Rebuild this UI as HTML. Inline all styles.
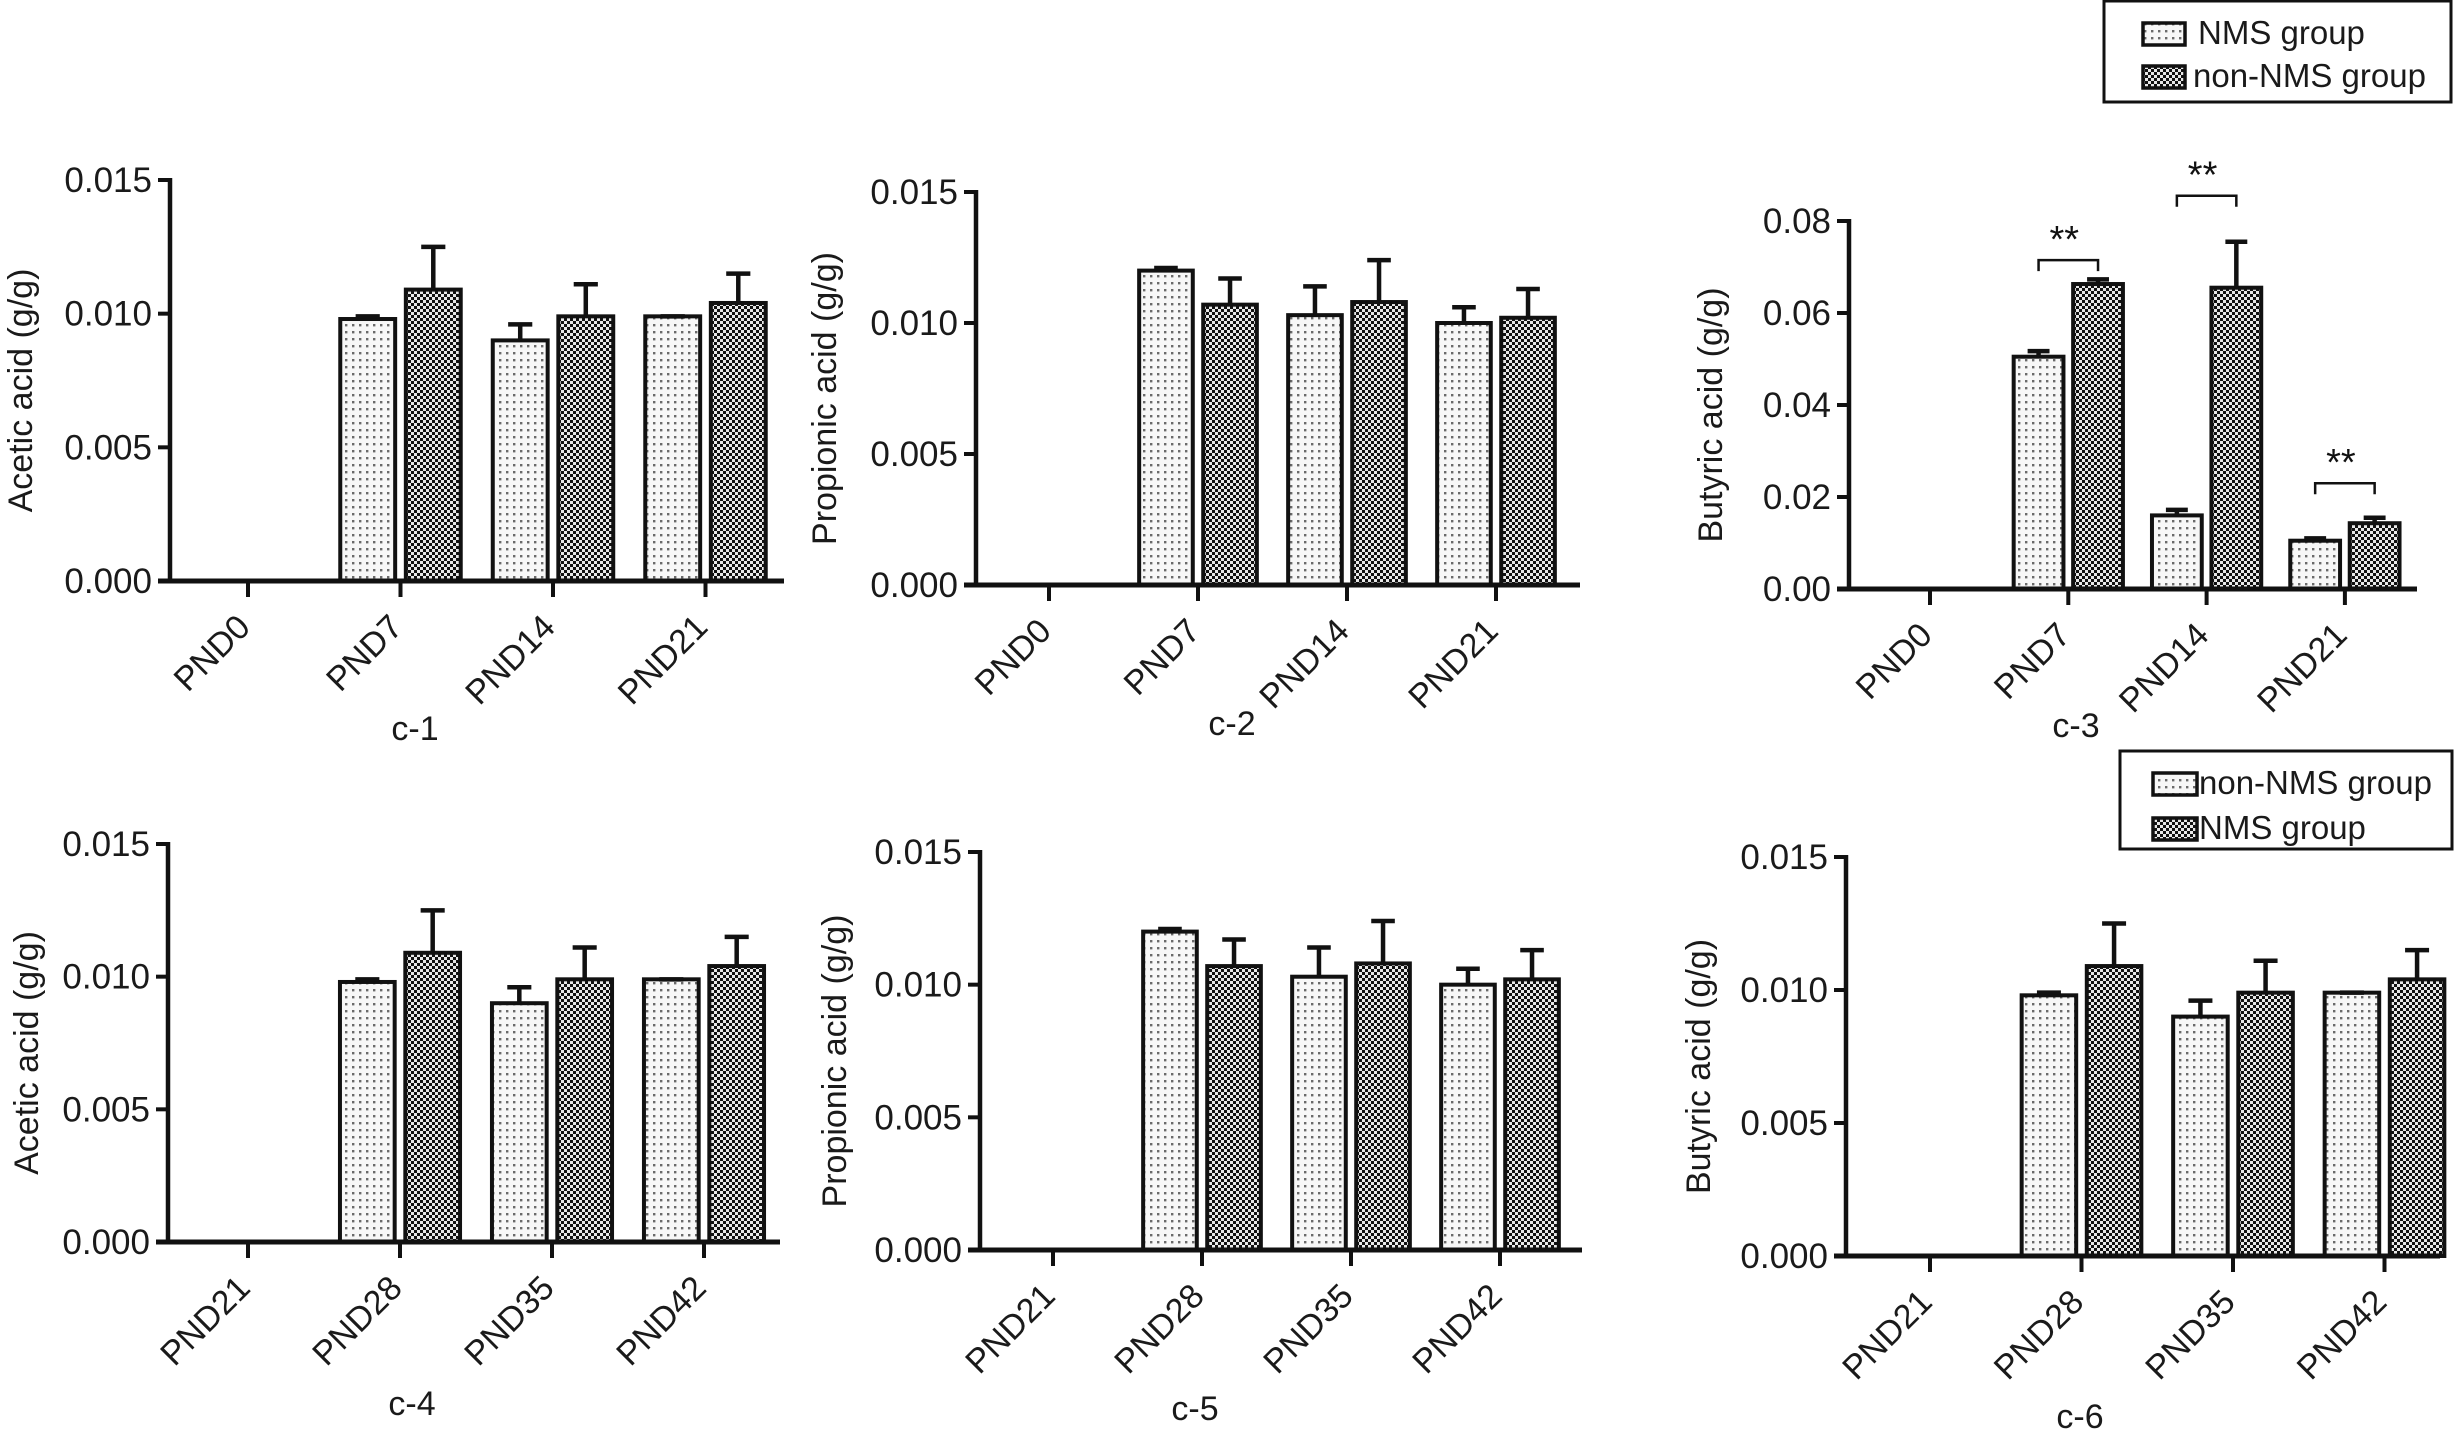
<!DOCTYPE html>
<html><head><meta charset="utf-8">
<style>
html,body{margin:0;padding:0;background:#fff;}
svg{display:block;font-family:"Liberation Sans",Arial,sans-serif;}
</style></head>
<body>
<svg id="fig" width="2454" height="1436" viewBox="0 0 2454 1436" xmlns="http://www.w3.org/2000/svg">
<defs>
<pattern id="pLight" width="7" height="7" patternUnits="userSpaceOnUse">
<rect width="7" height="7" fill="#f7f7f7"/><rect x="2" y="2" width="2.4" height="2.4" fill="#6a6a6a"/>
</pattern>
<pattern id="pDark" width="6" height="6" patternUnits="userSpaceOnUse">
<rect width="6" height="6" fill="#e8e8e8"/><rect width="3" height="3" fill="#111"/><rect x="3" y="3" width="3" height="3" fill="#111"/>
</pattern>
</defs>
<g id="root"></g>
</svg>
<script>
// ---- data ----
const catsTop = ["PND0","PND7","PND14","PND21"];
const catsBottom = ["PND21","PND28","PND35","PND42"];
const acetA = [0, 0.0098, 0.0090, 0.0099];
const acetAErr = [0, 0.0001, 0.0006, 0.0000];
const acetB = [0, 0.0109, 0.0099, 0.0104];
const acetBErr = [0, 0.0016, 0.0012, 0.0011];
const propA = [0, 0.0120, 0.0103, 0.0100];
const propAErr = [0, 0.0001, 0.0011, 0.0006];
const propB = [0, 0.0107, 0.0108, 0.0102];
const propBErr = [0, 0.0010, 0.0016, 0.0011];
const butA = [0, 0.0505, 0.0160, 0.0105];
const butAErr = [0, 0.0012, 0.0012, 0.0005];
const butB = [0, 0.0663, 0.0655, 0.0143];
const butBErr = [0, 0.0010, 0.0100, 0.0012];
const ticksSmall = [0, 0.005, 0.010, 0.015];
const ticksSmallLabels = ["0.000","0.005","0.010","0.015"];
const ticksBut = [0, 0.02, 0.04, 0.06, 0.08];
const ticksButLabels = ["0.00","0.02","0.04","0.06","0.08"];
const sigCats = [1, 2, 3];
const sigHeights = [0.0715, 0.0855, 0.0230];

// ---- layout ----
const panels = [
 {id:"c-1", cats:catsTop, a:acetA, ae:acetAErr, b:acetB, be:acetBErr, ticks:ticksSmall, tl:ticksSmallLabels, max:0.015,
  ax:170, x1:784, yTop:180, yBase:581, c0:248, cw:152.5, ylab:"Acetic acid (g/g)", ylx:20, lab:[415,740]},
 {id:"c-2", cats:catsTop, a:propA, ae:propAErr, b:propB, be:propBErr, ticks:ticksSmall, tl:ticksSmallLabels, max:0.015,
  ax:976, x1:1580, yTop:192, yBase:585, c0:1049, cw:149, ylab:"Propionic acid (g/g)", ylx:824, lab:[1232,735]},
 {id:"c-3", cats:catsTop, a:butA, ae:butAErr, b:butB, be:butBErr, ticks:ticksBut, tl:ticksButLabels, max:0.08,
  ax:1849, x1:2417, yTop:221, yBase:589, c0:1930, cw:138.3, ylab:"Butyric acid (g/g)", ylx:1710, lab:[2076,737], sig:true},
 {id:"c-4", cats:catsBottom, a:acetA, ae:acetAErr, b:acetB, be:acetBErr, ticks:ticksSmall, tl:ticksSmallLabels, max:0.015,
  ax:168, x1:780, yTop:844, yBase:1242, c0:248, cw:152, ylab:"Acetic acid (g/g)", ylx:26, lab:[412,1415]},
 {id:"c-5", cats:catsBottom, a:propA, ae:propAErr, b:propB, be:propBErr, ticks:ticksSmall, tl:ticksSmallLabels, max:0.015,
  ax:980, x1:1582, yTop:852, yBase:1250, c0:1053, cw:149, ylab:"Propionic acid (g/g)", ylx:834, lab:[1195,1420]},
 {id:"c-6", cats:catsBottom, a:acetA, ae:acetAErr, b:acetB, be:acetBErr, ticks:ticksSmall, tl:ticksSmallLabels, max:0.015,
  ax:1846, x1:2440, yTop:857, yBase:1256, c0:1930, cw:151.5, ylab:"Butyric acid (g/g)", ylx:1698, lab:[2080,1428]}
];

const NS = "http://www.w3.org/2000/svg";
const root = document.getElementById("root");
function mk(tag, attrs, parent){
  const e = document.createElementNS(NS, tag);
  for (const k in attrs) e.setAttribute(k, attrs[k]);
  (parent||root).appendChild(e);
  return e;
}

panels.forEach(p => {
  const g = mk("g", {});
  
  
  const y = v => p.yBase - (v / p.max) * (p.yBase - p.yTop);
  const xc = i => p.c0 + i * p.cw;
  const bw = 0.36 * p.cw, gap = 0.035 * p.cw;

  [[p.a, p.ae, "url(#pLight)", -1], [p.b, p.be, "url(#pDark)", 1]].forEach(([vals, errs, fill, side], si) => {
    vals.forEach((v, i) => {
      if (v <= 0) return;
      const x = side < 0 ? xc(i) - gap - bw : xc(i) + gap;
      const top = y(v);
      const r = mk("rect", {x:x, y:top, width:bw, height:p.yBase - top, fill:fill, stroke:"#111", "stroke-width":4}, g);
      
      
      const et = y(v + errs[i]);
      const cx = x + bw / 2;
      const eb = mk("path", {d:`M${cx},${top} V${et} M${cx - bw*0.22},${et} H${cx + bw*0.22}`, stroke:"#111", "stroke-width":4.5, fill:"none"}, g);
      
      
    });
  });

  const ya = mk("line", {x1:p.ax, y1:p.yTop - 2, x2:p.ax, y2:p.yBase, stroke:"#111", "stroke-width":4.5}, g);
  
  
  const xa = mk("line", {x1:p.ax - 12, y1:p.yBase, x2:p.x1, y2:p.yBase, stroke:"#111", "stroke-width":5}, g);
  
  

  p.ticks.forEach((t, i) => {
    const ty = y(t);
    mk("line", {x1:p.ax - 12, y1:ty, x2:p.ax, y2:ty, stroke:"#111", "stroke-width":4}, g);
    const tx = mk("text", {x:p.ax - 18, y:ty + 12, "font-size":35, "text-anchor":"end", fill:"#1a1a1a"}, g);
    tx.textContent = p.tl[i];
    
    
  });

  p.cats.forEach((c, i) => {
    const x = xc(i);
    mk("line", {x1:x, y1:p.yBase, x2:x, y2:p.yBase + 16, stroke:"#111", "stroke-width":4}, g);
    const tx = mk("text", {x:x + 4, y:p.yBase + 48, "font-size":34, "text-anchor":"end", fill:"#1a1a1a",
      transform:`rotate(-45 ${x + 4} ${p.yBase + 48})`}, g);
    tx.textContent = c;
    
    
  });

  const cy = (p.yTop + p.yBase) / 2 + 10;
  const yl = mk("text", {x:p.ylx + 12, y:cy, "font-size":34, "text-anchor":"middle", fill:"#1a1a1a",
    transform:`rotate(-90 ${p.ylx + 12} ${cy})`}, g);
  yl.textContent = p.ylab;
  
  

  const pl = mk("text", {x:p.lab[0], y:p.lab[1], "font-size":34, "text-anchor":"middle", fill:"#1a1a1a"}, g);
  pl.textContent = p.id;
  
  

  if (p.sig) {
    sigCats.forEach((ci, k) => {
      const by = y(sigHeights[k]);
      const xL = xc(ci) - gap - bw / 2, xR = xc(ci) + gap + bw / 2;
      const br = mk("path", {d:`M${xL},${by + 11} V${by} H${xR} V${by + 11}`, stroke:"#111", "stroke-width":2.5, fill:"none"}, g);
      
      
      const st = mk("text", {x:(xL + xR) / 2 - 4, y:by - 8, "font-size":38, "text-anchor":"middle", fill:"#111"}, g);
      st.textContent = "**";
      
      
    });
  }
});

function legend(x, y, w, h, entries, name){
  const g = mk("g", {});
  
  
  mk("rect", {x:x, y:y, width:w, height:h, fill:"#fff", stroke:"#111", "stroke-width":3}, g);
  entries.forEach((e, i) => {
    const sy = e.sy;
    const sw = mk("rect", {x:e.sx, y:sy, width:e.sw, height:22, fill:e.fill, stroke:"#111", "stroke-width":3.5}, g);
    
    
    const t = mk("text", {x:e.tx, y:sy + 21, "font-size":33, fill:"#1a1a1a"}, g);
    t.textContent = e.label;
    
    
  });
}
legend(2104, 1, 347, 101, [
  {sx:2143, sy:23, sw:42, fill:"url(#pLight)", tx:2198, label:"NMS group"},
  {sx:2143, sy:66, sw:42, fill:"url(#pDark)", tx:2193, label:"non-NMS group"}
], "legend-top");
legend(2120, 751, 332, 98, [
  {sx:2153, sy:773, sw:44, fill:"url(#pLight)", tx:2199, label:"non-NMS group"},
  {sx:2153, sy:818, sw:44, fill:"url(#pDark)", tx:2199, label:"NMS group"}
], "legend-bottom");
</script>
</body></html>
